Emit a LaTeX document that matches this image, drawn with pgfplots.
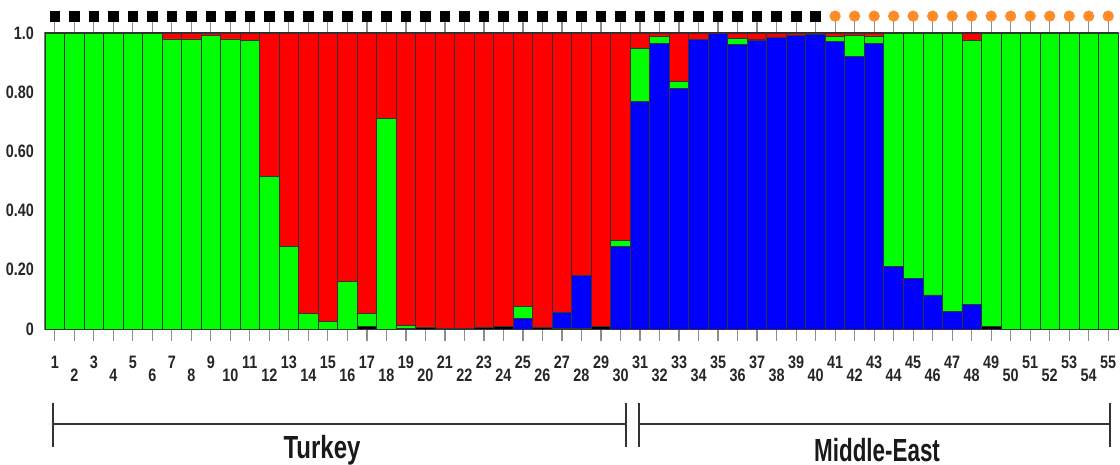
\documentclass[border=0pt]{standalone}
\usepackage{fontspec}
\setmainfont{Liberation Sans}
\usepackage{pgfplots}
\usepackage{pgfplotstable}
\pgfplotsset{compat=1.18}
\definecolor{qgreen}{RGB}{0,255,0}
\definecolor{qred}{RGB}{255,0,0}
\definecolor{qblue}{RGB}{0,0,255}
\definecolor{qorange}{RGB}{255,140,40}
\newcommand{\sx}[1]{\scalebox{0.8}[1]{\bfseries #1}}

\pgfplotstableread{
idx k b g r
1 0 0 1.000 0
2 0 0 1.000 0
3 0 0 1.000 0
4 0 0 1.000 0
5 0 0 1.000 0
6 0 0 0.998 0.002
7 0 0 0.980 0.020
8 0 0 0.980 0.020
9 0 0 0.992 0.008
10 0 0 0.980 0.020
11 0 0 0.974 0.026
12 0 0 0.515 0.485
13 0 0 0.280 0.720
14 0 0 0.053 0.947
15 0 0 0.025 0.975
16 0 0 0.160 0.840
17 0.008 0 0.045 0.947
18 0 0 0.712 0.288
19 0.003 0 0.010 0.987
20 0.005 0 0.002 0.993
21 0.002 0 0 0.998
22 0.002 0 0 0.998
23 0.004 0 0 0.996
24 0.010 0 0 0.990
25 0 0.036 0.039 0.925
26 0.004 0 0 0.996
27 0.003 0.053 0 0.944
28 0.003 0.177 0 0.820
29 0.010 0 0 0.990
30 0 0.278 0.020 0.702
31 0 0.768 0.180 0.052
32 0 0.965 0.023 0.012
33 0 0.813 0.023 0.164
34 0 0.977 0 0.023
35 0 0.997 0 0.003
36 0 0.962 0.020 0.018
37 0 0.975 0.003 0.022
38 0 0.985 0 0.015
39 0 0.992 0 0.008
40 0 0.996 0 0.004
41 0 0.971 0.017 0.012
42 0 0.920 0.073 0.007
43 0 0.965 0.025 0.010
44 0 0.210 0.790 0
45 0 0.171 0.829 0
46 0 0.115 0.885 0
47 0 0.059 0.941 0
48 0 0.084 0.892 0.024
49 0.008 0 0.992 0
50 0 0 1.000 0
51 0 0 1.000 0
52 0 0 1.000 0
53 0 0 1.000 0
54 0 0 1.000 0
55 0 0 1.000 0
}\datatable

\begin{document}
\begin{tikzpicture}[x=1pt,y=1pt]
\path[use as bounding box] (0,0) rectangle (560,232.5);
\begin{axis}[
  at={(22.5pt,68pt)}, anchor=south west,
  scale only axis, width=536.5pt, height=148pt,
  xmin=0.5, xmax=55.5, ymin=0, ymax=1,
  clip=false,
  ybar stacked, bar width=1,
  axis line style={draw=black!55, line width=0.8pt},
  tick align=outside,
  major tick length=6pt,
  xtick={1,3,...,55},
  xticklabels={\sx{1},\sx{3},\sx{5},\sx{7},\sx{9},\sx{11},\sx{13},\sx{15},\sx{17},\sx{19},\sx{21},\sx{23},\sx{25},\sx{27},\sx{29},\sx{31},\sx{33},\sx{35},\sx{37},\sx{39},\sx{41},\sx{43},\sx{45},\sx{47},\sx{49},\sx{51},\sx{53},\sx{55}},
  extra x ticks={2,4,...,54},
  extra x tick labels={\sx{2},\sx{4},\sx{6},\sx{8},\sx{10},\sx{12},\sx{14},\sx{16},\sx{18},\sx{20},\sx{22},\sx{24},\sx{26},\sx{28},\sx{30},\sx{32},\sx{34},\sx{36},\sx{38},\sx{40},\sx{42},\sx{44},\sx{46},\sx{48},\sx{50},\sx{52},\sx{54}},
  extra x tick style={xticklabel style={font=\fontsize{9}{10}\selectfont, text=black!85, yshift=-6.5pt}},
  x tick style={draw=black!45, line width=0.6pt},
  xticklabel style={font=\fontsize{9}{10}\selectfont, text=black!85, yshift=-4pt},
  ytick={0,0.2,0.4,0.6,0.8,1},
  yticklabels={\sx{0},\sx{0.20},\sx{0.40},\sx{0.60},\sx{0.80},\sx{1.0}},
  y tick style={draw=none},
  yticklabel style={font=\fontsize{9}{10}\selectfont, text=black!85, xshift=4pt},
]
\addplot[fill=black, draw=black!80, line width=0.4pt] table[x=idx,y=k]{\datatable};
\addplot[fill=qblue, draw=black!80, line width=0.4pt] table[x=idx,y=b]{\datatable};
\addplot[fill=qgreen, draw=black!80, line width=0.4pt] table[x=idx,y=g]{\datatable};
\addplot[fill=qred, draw=black!80, line width=0.4pt] table[x=idx,y=r]{\datatable};
\draw[black!85, line width=1.2pt] (axis cs:0.5,1) -- (axis cs:55.5,1);
\end{axis}
\begin{axis}[
  at={(22.5pt,68pt)}, anchor=south west,
  scale only axis, width=536.5pt, height=148pt,
  xmin=0.5, xmax=55.5, ymin=0, ymax=1,
  clip=false, hide axis,
]
\addplot[only marks, mark=square*, mark size=2.4pt, black] coordinates {
(1,1.057) (2,1.057) (3,1.057) (4,1.057) (5,1.057) (6,1.057) (7,1.057) (8,1.057) (9,1.057) (10,1.057)
(11,1.057) (12,1.057) (13,1.057) (14,1.057) (15,1.057) (16,1.057) (17,1.057) (18,1.057) (19,1.057) (20,1.057)
(21,1.057) (22,1.057) (23,1.057) (24,1.057) (25,1.057) (26,1.057) (27,1.057) (28,1.057) (29,1.057) (30,1.057)
(31,1.057) (32,1.057) (33,1.057) (34,1.057) (35,1.057) (36,1.057) (37,1.057) (38,1.057) (39,1.057) (40,1.057)};
\addplot[only marks, mark=*, mark size=2.6pt, qorange] coordinates {
(41,1.057) (42,1.057) (43,1.057) (44,1.057) (45,1.057) (46,1.057) (47,1.057) (48,1.057)
(49,1.057) (50,1.057) (51,1.057) (52,1.057) (53,1.057) (54,1.057) (55,1.057)};
\draw[black!80, line width=1pt] (axis cs:0.9,-0.321) -- (axis cs:30.28,-0.321);
\draw[black!80, line width=1pt] (axis cs:0.9,-0.25) -- (axis cs:0.9,-0.399);
\draw[black!80, line width=1pt] (axis cs:30.28,-0.25) -- (axis cs:30.28,-0.399);
\draw[black!80, line width=1pt] (axis cs:30.95,-0.321) -- (axis cs:55.1,-0.321);
\draw[black!80, line width=1pt] (axis cs:30.95,-0.25) -- (axis cs:30.95,-0.399);
\draw[black!80, line width=1pt] (axis cs:55.1,-0.25) -- (axis cs:55.1,-0.399);
\node[anchor=base, font=\bfseries\fontsize{16}{18}\selectfont, xscale=0.75, inner sep=0pt, text=black!90] at (axis cs:14.7,-0.439) {Turkey};
\node[anchor=base, font=\bfseries\fontsize{16}{18}\selectfont, xscale=0.70, inner sep=0pt, text=black!90] at (axis cs:43.15,-0.446) {Middle-East};
\end{axis}
\end{tikzpicture}
\end{document}
